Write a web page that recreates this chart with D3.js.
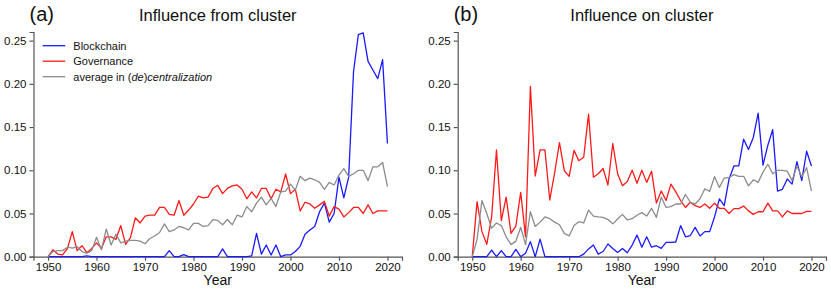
<!DOCTYPE html>
<html>
<head>
<meta charset="utf-8">
<script src="https://cdn.jsdelivr.net/npm/d3@7"></script>
<style>
    body { margin: 0; background: #fff; }
    svg { display: block; font-family: "Liberation Sans", Arial, sans-serif; }
    .axis path, .axis line { stroke: #555; stroke-width: 1.2; }
    .axis text { fill: #111; font-size: 11.5px; }
    .line { fill: none; stroke-width: 1.3; stroke-linejoin: round; }
</style>
</head>
<body>
<div id="chart"></div>
<script>

// DATA

// Year categories shared by both panels
var years = d3.range( 1950, 2021 );

var xTicks = [1950, 1960, 1970, 1980, 1990, 2000, 2010, 2020];
var yTicks = [0, 0.05, 0.10, 0.15, 0.20, 0.25];

var seriesNames = ['Blockchain', 'Governance', 'average in (de)centralization'];
var seriesColors = ['#1a1aff', '#ff1a1a', '#8c8c8c'];

// (a) Influence from cluster
var fromBlockchain = [
    0, 0, 0, 0, 0, 0, 0, 0, 0.001, 0,
    0, 0, 0, 0, 0, 0, 0, 0, 0, 0,
    0, 0, 0, 0, 0, 0.007, 0, 0, 0.0025, 0,
    0, 0, 0, 0, 0, 0, 0.009, 0, 0, 0,
    0, 0, 0.001, 0.027, 0.003, 0.0135, 0.002, 0.0135, 0, 0.002,
    0.002, 0.006, 0.012, 0.026, 0.031, 0.035, 0.052, 0.062, 0.040, 0.050,
    0.092, 0.068, 0.092, 0.214, 0.257, 0.259, 0.226, 0.216, 0.206, 0.228,
    0.131
];
var fromGovernance = [
    0, 0.008, 0.003, 0.002, 0.0095, 0.029, 0.007, 0.0127, 0.0046, 0.0096,
    0.016, 0.0096, 0.023, 0.023, 0.020, 0.036, 0.0143, 0.022, 0.045, 0.039,
    0.047, 0.048, 0.048, 0.057, 0.057, 0.049, 0.048, 0.065, 0.048, 0.054,
    0.061, 0.070, 0.068, 0.069, 0.079, 0.0826, 0.073, 0.079, 0.082, 0.083,
    0.078, 0.067, 0.075, 0.068, 0.079, 0.079, 0.067, 0.078, 0.075, 0.0957,
    0.073, 0.078, 0.053, 0.063, 0.061, 0.056, 0.060, 0.064, 0.047, 0.058,
    0.055, 0.046, 0.051, 0.057, 0.057, 0.050, 0.060, 0.050, 0.053, 0.053,
    0.053
];
var fromAverage = [
    0, 0.006, 0.007, 0.007, 0.011, 0.010, 0.0116, 0.006, 0.004, 0.007,
    0.0224, 0.008, 0.032, 0.0135, 0.026, 0.016, 0.018, 0.019, 0.019, 0.018,
    0.015, 0.021, 0.024, 0.028, 0.038, 0.029, 0.031, 0.035, 0.0335, 0.031,
    0.0386, 0.0386, 0.035, 0.036, 0.043, 0.042, 0.037, 0.043, 0.037, 0.048,
    0.046, 0.058, 0.052, 0.062, 0.069, 0.060, 0.0675, 0.058, 0.075, 0.076,
    0.084, 0.077, 0.093, 0.088, 0.091, 0.089, 0.086, 0.078, 0.086, 0.083,
    0.0945, 0.102, 0.093, 0.096, 0.100, 0.100, 0.088, 0.104, 0.104, 0.109,
    0.081
];

// (b) Influence on cluster
var onBlockchain = [
    0, 0, 0, 0, 0.0077, 0, 0.007, 0, 0, 0.0085,
    0, 0.004, 0.0174, 0, 0.0204, 0, 0, 0, 0, 0,
    0, 0, 0, 0.003, 0.009, 0.0135, 0.003, 0.006, 0.0147, 0.0096,
    0.005, 0.0096, 0.0046, 0.0135, 0.025, 0.011, 0.023, 0.011, 0.0127, 0.0096,
    0.0166, 0.0166, 0.017, 0.036, 0.023, 0.0245, 0.034, 0.024, 0.029, 0.029,
    0.046, 0.067, 0.059, 0.090, 0.105, 0.105, 0.136, 0.124, 0.138, 0.166,
    0.106, 0.129, 0.147, 0.076, 0.078, 0.090, 0.084, 0.110, 0.088, 0.122,
    0.105
];
var onGovernance = [
    0, 0.0637, 0.029, 0.0143, 0.046, 0.1235, 0.0417, 0.069, 0.027, 0.0355,
    0.0745, 0.023, 0.197, 0.0934, 0.1235, 0.1235, 0.0656, 0.097, 0.132, 0.0995,
    0.093, 0.123, 0.111, 0.115, 0.165, 0.092, 0.096, 0.102, 0.083, 0.131,
    0.096, 0.082, 0.087, 0.100, 0.085, 0.100, 0.086, 0.099, 0.062, 0.076,
    0.065, 0.084, 0.075, 0.065, 0.057, 0.063, 0.059, 0.057, 0.061, 0.056,
    0.062, 0.056, 0.056, 0.050, 0.0556, 0.0556, 0.0586, 0.053, 0.049, 0.052,
    0.052, 0.062, 0.053, 0.053, 0.046, 0.053, 0.050, 0.050, 0.050, 0.0525,
    0.0525
];
var onAverage = [
    0, 0.020, 0.065, 0.050, 0.033, 0.039, 0.036, 0.023, 0.014, 0.018,
    0.034, 0.014, 0.052, 0.035, 0.040, 0.046, 0.044, 0.040, 0.037, 0.027,
    0.024, 0.036, 0.0405, 0.039, 0.054, 0.047, 0.046, 0.0455, 0.043, 0.038,
    0.0437, 0.049, 0.0425, 0.044, 0.048, 0.051, 0.047, 0.056, 0.0455, 0.069,
    0.057, 0.058, 0.061, 0.061, 0.072, 0.063, 0.061, 0.067, 0.0786, 0.0756,
    0.0926, 0.080, 0.091, 0.0918, 0.095, 0.093, 0.093, 0.082, 0.089, 0.086,
    0.098, 0.107, 0.096, 0.100, 0.100, 0.099, 0.088, 0.105, 0.0926, 0.103,
    0.076
];


// LAYOUT

var width = 831;
var height = 294;

var panels = [
    { tag: '(a)', title: 'Influence from cluster', left: 33.5, right: 402,
      series: [fromBlockchain, fromGovernance, fromAverage], legend: true },
    { tag: '(b)', title: 'Influence on cluster', left: 457.7, right: 826,
      series: [onBlockchain, onGovernance, onAverage], legend: false }
];

var plotTop = 32;
var plotBottom = 256.7;


// DRAW

var svg = d3.select( '#chart' ).append( 'svg' )
            .attr( 'width', width )
            .attr( 'height', height );

panels.forEach( function( p ) {

    var x = d3.scaleLinear()
                .domain( [1947, 2023] )
                .range( [p.left, p.right] );
    var y = d3.scaleLinear()
                .domain( [0, 0.26] )
                .range( [plotBottom, plotTop] );

    var line = d3.line()
                    .x( function( d, i ) { return x( years[i] ); } )
                    .y( function( d ) { return y( d ); } );

    // Axes
    svg.append( 'g' )
        .attr( 'class', 'axis' )
        .attr( 'transform', 'translate(0,' + plotBottom + ')' )
        .call( d3.axisBottom( x ).tickValues( xTicks ).tickFormat( d3.format( 'd' ) )
                .tickSizeOuter( 0 ).tickSize( 4 ).tickPadding( 2 ) );

    svg.append( 'g' )
        .attr( 'class', 'axis' )
        .attr( 'transform', 'translate(' + p.left + ',0)' )
        .call( d3.axisLeft( y ).tickValues( yTicks ).tickFormat( d3.format( '.2f' ) )
                .tickSizeOuter( 0 ).tickSize( 4 ).tickPadding( 3 ) );

    svg.selectAll( '.domain' ).attr( 'stroke', '#555' );

    // Lines (blue first, grey drawn last on top)
    p.series.forEach( function( s, k ) {
        svg.append( 'path' )
            .datum( s )
            .attr( 'class', 'line' )
            .attr( 'stroke', seriesColors[k] )
            .attr( 'd', line );
    } );

    // Texts
    svg.append( 'text' )
        .attr( 'x', p.left - 4 )
        .attr( 'y', 21 )
        .attr( 'font-size', 20 )
        .attr( 'fill', '#111' )
        .text( p.tag );

    svg.append( 'text' )
        .attr( 'x', ( p.left + p.right ) / 2 )
        .attr( 'y', 21 )
        .attr( 'text-anchor', 'middle' )
        .attr( 'font-size', 16.5 )
        .attr( 'fill', '#111' )
        .text( p.title );

    svg.append( 'text' )
        .attr( 'x', ( p.left + p.right ) / 2 )
        .attr( 'y', 285 )
        .attr( 'text-anchor', 'middle' )
        .attr( 'font-size', 14 )
        .attr( 'fill', '#111' )
        .text( 'Year' );

    // Legend
    if ( p.legend ) {
        var lg = svg.append( 'g' ).attr( 'transform', 'translate(42.7,45.7)' );
        seriesNames.forEach( function( name, k ) {
            var row = lg.append( 'g' ).attr( 'transform', 'translate(0,' + ( k * 15.5 ) + ')' );
            row.append( 'line' )
                .attr( 'x1', 0 ).attr( 'x2', 22.5 )
                .attr( 'stroke', seriesColors[k] )
                .attr( 'stroke-width', 1.3 );
            var t = row.append( 'text' )
                .attr( 'x', 30.6 )
                .attr( 'dy', '0.35em' )
                .attr( 'font-size', 11 )
                .attr( 'fill', '#111' );
            if ( k === 2 ) {
                t.append( 'tspan' ).text( 'average in (' );
                t.append( 'tspan' ).attr( 'font-style', 'italic' ).text( 'de' );
                t.append( 'tspan' ).text( ')' );
                t.append( 'tspan' ).attr( 'font-style', 'italic' ).text( 'centralization' );
            } else {
                t.text( name );
            }
        } );
    }

} );

</script>
</body>
</html>
